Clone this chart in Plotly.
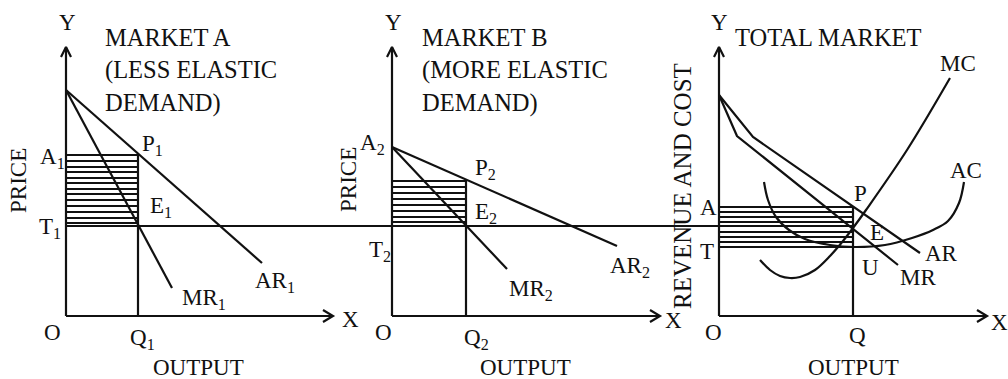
import plotly.graph_objects as go

# ---------------- data (diagram units; y grows downward) ----------------
ORIGIN_X = [66, 392, 719]          # Y-axis position of each panel
AXIS_END_X = [333, 660, 987]       # end of each X axis
BASE_Y = 316                       # X-axis level
TOP_Y = 47                         # Y-axis top

# Market A (less elastic)
AR1_X = [66, 262]
AR1_Y = [90, 263]
MR1_X = [66, 172]
MR1_Y = [90, 288]
Q1_X = 138
A1_Y = 155

# Market B (more elastic)
AR2_X = [392, 617]
AR2_Y = [147, 246]
MR2_X = [392, 507]
MR2_Y = [147, 269]
Q2_X = 466
A2_Y = 180

# Total market
AR_X = [719, 753, 920]
AR_Y = [95, 137, 253]
MR_X = [719, 737, 898]
MR_Y = [95, 136, 265]
MC_X = [760, 770, 780, 790, 800, 815, 830, 843, 853, 866, 907, 950]
MC_Y = [260, 270, 276, 278, 277, 270, 256, 241, 228, 210, 150, 78]
AC_X = [764, 768, 776, 789, 805, 830, 855, 885, 912, 933, 948, 959, 964]
AC_Y = [182, 200, 217, 230, 239, 245, 247, 245, 238, 230, 221, 203, 182]
Q_X = 853
A_Y = 207
T_Y = 247

# common MC = MR level line
MC_LEVEL_Y = 226
MC_LEVEL_X = [66, 855]

# hatching levels
HATCH_A = [155, 161, 167, 172, 178, 183, 189, 194, 200, 206, 212, 218, 223]
HATCH_B = [181, 187, 193, 199, 205, 211, 217, 222]
HATCH_C = [207, 212, 217, 222, 232, 237, 242, 247]

TITLES = [
    ("MARKET A", 103, 37), ("(LESS ELASTIC", 103, 70), ("DEMAND)", 103, 103),
    ("MARKET B", 420, 37), ("(MORE ELASTIC", 420, 70), ("DEMAND)", 420, 103),
    ("TOTAL MARKET", 733, 37),
]
LEFT_LABELS = [
    ("A<sub>1</sub>", 38, 158), ("T<sub>1</sub>", 37, 228), ("P<sub>1</sub>", 140, 145),
    ("E<sub>1</sub>", 148, 207), ("MR<sub>1</sub>", 180, 299), ("AR<sub>1</sub>", 253, 282),
    ("Q<sub>1</sub>", 128, 339),
    ("A<sub>2</sub>", 358, 144), ("P<sub>2</sub>", 473, 169), ("E<sub>2</sub>", 473, 213),
    ("T<sub>2</sub>", 367, 251), ("MR<sub>2</sub>", 507, 290), ("AR<sub>2</sub>", 608, 267),
    ("Q<sub>2</sub>", 462, 339),
    ("A", 698, 207), ("T", 698, 251), ("P", 852, 193), ("E", 868, 232), ("U", 860, 267),
    ("AR", 923, 253), ("MR", 898, 277), ("AC", 948, 170), ("MC", 938, 63),
    ("Q", 847, 335),
]
CENTER_LABELS = [
    ("Y", 67, 22), ("Y", 393, 22), ("Y", 719, 22),
    ("X", 350, 319), ("X", 673, 320), ("X", 999, 322),
    ("O", 52, 332), ("O", 383, 332), ("O", 713, 332),
    ("OUTPUT", 198, 367), ("OUTPUT", 525, 367), ("OUTPUT", 853, 367),
]
ROTATED_LABELS = [("PRICE", 18, 181, 23), ("PRICE", 348, 180, 23),
                  ("REVENUE AND COST", 682, 186, 25)]

# ---------------- drawing ----------------
INK = "#111111"
FONT = "Liberation Serif"
fig = go.Figure()


def seg(xs, ys, width=2.2, shape="linear"):
    fig.add_trace(go.Scatter(x=xs, y=ys, mode="lines", hoverinfo="skip",
                             line=dict(color=INK, width=width, shape=shape,
                                       smoothing=1.0 if shape == "spline" else None),
                             showlegend=False))


# axes with chevron arrowheads
for ox, ex in zip(ORIGIN_X, AXIS_END_X):
    seg([ox, ox, None, ox - 5, ox, ox + 5], [BASE_Y, TOP_Y, None, TOP_Y + 10, TOP_Y, TOP_Y + 10])
    seg([ox, ex, None, ex - 10, ex, ex - 10], [BASE_Y, BASE_Y, None, BASE_Y - 6, BASE_Y, BASE_Y + 6])

# hatching
for ox, qx, levels in zip(ORIGIN_X, [Q1_X, Q2_X, Q_X], [HATCH_A, HATCH_B, HATCH_C]):
    xs, ys = [], []
    for y in levels:
        xs += [ox, qx, None]
        ys += [y, y, None]
    seg(xs, ys, width=2.0)

# common MC level line
seg(MC_LEVEL_X, [MC_LEVEL_Y, MC_LEVEL_Y])

# output verticals
seg([Q1_X, Q1_X], [A1_Y, BASE_Y])
seg([Q2_X, Q2_X], [A2_Y, BASE_Y])
seg([Q_X, Q_X], [A_Y, BASE_Y])

# demand / revenue curves
seg(AR1_X, AR1_Y)
seg(MR1_X, MR1_Y)
seg(AR2_X, AR2_Y)
seg(MR2_X, MR2_Y)
seg(AR_X, AR_Y)
seg(MR_X, MR_Y)
seg(MC_X, MC_Y, shape="spline")
seg(AC_X, AC_Y, shape="spline")

ann = []
for t, x, y in TITLES:
    ann.append(dict(text=t, x=x, y=y, xanchor="left", yanchor="middle", font=dict(size=24.5)))
for t, x, y in LEFT_LABELS:
    ann.append(dict(text=t, x=x, y=y, xanchor="left", yanchor="middle", font=dict(size=23)))
for t, x, y in CENTER_LABELS:
    ann.append(dict(text=t, x=x, y=y, xanchor="center", yanchor="middle", font=dict(size=23)))
for t, x, y, s in ROTATED_LABELS:
    ann.append(dict(text=t, x=x, y=y, xanchor="center", yanchor="middle", textangle=-90,
                    font=dict(size=s)))
for a in ann:
    a.update(xref="x", yref="y", showarrow=False)
    a["font"].update(family=FONT, color=INK)

fig.update_layout(
    width=1008, height=379,
    margin=dict(l=0, r=0, t=0, b=0),
    paper_bgcolor="white", plot_bgcolor="white",
    xaxis=dict(range=[0, 1008], visible=False, fixedrange=True),
    yaxis=dict(range=[379, 0], visible=False, fixedrange=True),
    annotations=ann,
    showlegend=False,
)
fig.write_html(
    "out.html",
    config={"displayModeBar": False, "staticPlot": True},
    post_script="document.body.style.margin='0';document.body.style.overflow='hidden';",
)
